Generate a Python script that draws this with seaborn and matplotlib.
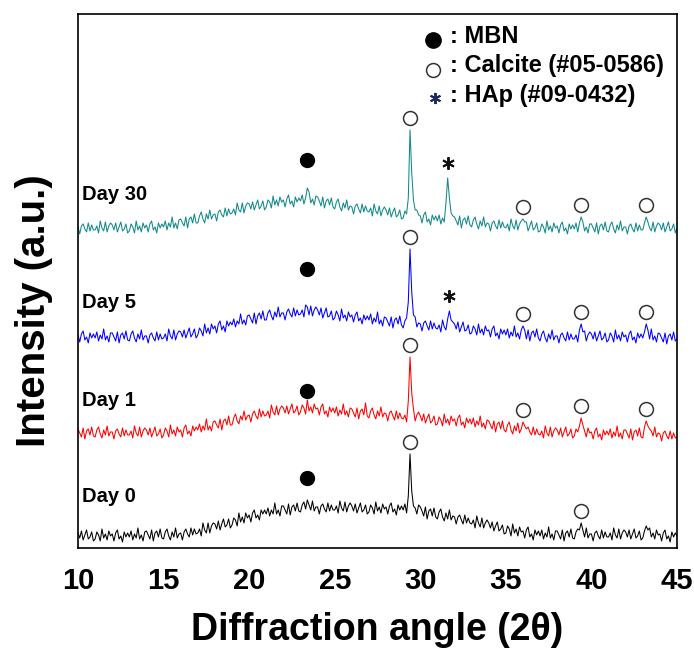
import numpy as np
import pandas as pd
import matplotlib
matplotlib.use('Agg')
import matplotlib.pyplot as plt
import seaborn as sns

# XRD scans, 2theta 10-45 deg in 0.1 deg steps (one row = 1 deg), intensity in a.u.
day0 = [3, -2, 5, -4, 1, 6, -3, -1, 4, -5,
        -3, 4, 1, -5, 7, -2, 2, -4, 5, 0,
        2, -5, 3, 6, -3, 0, -6, 4, -1, 3,
        -1, 5, -4, 2, -2, 8, -3, 1, -5, 4,
        5, 1, -3, 6, -5, 3, 5, -1, 7, -2,
        -3, 4, 7, 0, -4, 4, -1, 8, -2, 2,
        3, -4, 4, 7, 2, -1, 8, 1, 7, 2,
        3, 7, 0, 13, 6, 3, 13, 3, 10, 13,
        12, 7, 15, 6, 12, 17, 9, 11, 17, 8,
        11, 18, 16, 10, 23, 14, 19, 13, 23, 18,
        21, 14, 23, 26, 18, 21, 16, 26, 22, 26,
        22, 28, 20, 26, 22, 33, 22, 26, 20, 30,
        30, 26, 22, 32, 21, 29, 31, 25, 33, 25,
        24, 31, 34, 27, 36, 31, 26, 35, 25, 29,
        29, 22, 30, 32, 27, 24, 33, 25, 31, 26,
        26, 30, 23, 35, 28, 25, 34, 24, 30, 33,
        30, 25, 32, 23, 28, 33, 24, 26, 31, 22,
        24, 31, 28, 22, 34, 25, 29, 23, 32, 27,
        29, 22, 30, 33, 24, 27, 21, 31, 26, 30,
        26, 32, 23, 40, 82, 45, 30, 28, 22, 31,
        29, 25, 20, 29, 17, 25, 27, 20, 28, 19,
        17, 24, 27, 19, 15, 23, 17, 26, 16, 20,
        19, 12, 19, 21, 16, 12, 21, 13, 18, 13,
        12, 16, 8, 20, 13, 9, 18, 8, 13, 16,
        13, 8, 14, 5, 10, 14, 5, 7, 11, 2,
        3, 10, 7, 0, 12, 3, 7, 0, 9, 4,
        5, -2, 6, 9, -1, 2, -4, 6, 1, 5,
        0, 6, -3, 3, -1, 9, -2, 2, -4, 5,
        5, 1, -3, 6, -5, 3, 5, -1, 7, -2,
        -3, 4, 7, 6, 13, 6, -1, 8, -2, 2,
        2, -5, 3, 5, 0, -3, 6, -2, 4, -1,
        -1, 3, -4, 8, 1, -2, 7, -3, 3, 6,
        4, -1, 6, -3, 2, 7, -2, 0, 5, -4,
        -2, 5, 10, 6, 8, -1, 3, -3, 6, 1,
        2, -5, 3, 6, -3, 0, -6, 4, -1, 3,
        0]

day1 = [4, 0, -4, 5, -6, 2, 4, -2, 6, -3,
        -4, 3, 6, -1, -5, 3, -2, 7, -3, 1,
        1, -6, 2, 4, -1, -4, 5, -3, 3, -2,
        -2, 2, -5, 7, 0, -3, 6, -4, 2, 5,
        3, -2, 5, -4, 1, 6, -3, -1, 4, -5,
        -2, 5, 2, -4, 8, -1, 3, -3, 6, 1,
        3, -4, 5, 8, -1, 2, -3, 7, 2, 6,
        3, 9, 1, 7, 3, 14, 3, 7, 2, 11,
        12, 8, 5, 14, 3, 12, 14, 8, 17, 8,
        8, 15, 19, 12, 9, 17, 13, 22, 13, 17,
        18, 11, 19, 22, 17, 14, 24, 16, 22, 17,
        18, 22, 15, 28, 21, 18, 27, 18, 24, 27,
        25, 20, 27, 19, 24, 29, 20, 22, 27, 18,
        21, 28, 25, 19, 33, 22, 26, 20, 29, 24,
        25, 18, 26, 29, 19, 22, 16, 26, 21, 25,
        20, 26, 17, 23, 19, 29, 18, 22, 16, 25,
        24, 20, 16, 25, 14, 22, 24, 18, 30, 17,
        15, 22, 25, 18, 14, 22, 17, 26, 16, 20,
        19, 12, 20, 22, 17, 13, 22, 14, 20, 15,
        14, 18, 11, 32, 76, 40, 24, 12, 18, 21,
        17, 12, 19, 10, 15, 19, 10, 12, 17, 8,
        9, 16, 13, 7, 19, 10, 14, 8, 17, 12,
        14, 7, 15, 18, 8, 11, 5, 15, 10, 14,
        9, 15, 6, 12, 8, 17, 6, 10, 4, 13,
        12, 8, 4, 12, 1, 9, 11, 4, 12, 3,
        1, 8, 11, 3, -1, 7, 2, 10, 0, 4,
        11, 7, 4, 6, 1, -2, 6, -2, 4, -1,
        -2, 2, -5, 7, 0, -3, 6, -4, 2, 5,
        3, -2, 5, -4, 1, 6, -3, -1, 4, -5,
        -3, 4, 1, 7, 15, 8, 2, -4, 5, 0,
        1, -6, 2, 5, -4, -1, -7, 3, -2, 2,
        -2, 4, -5, 1, -3, 7, -4, 0, -6, 3,
        3, -1, -5, 4, -7, 1, 3, -3, 5, -4,
        -5, 6, 12, 7, 4, 2, -3, 6, -4, 0,
        -1, -8, 0, 2, -3, -6, 2, -6, 0, -5,
        -4]

day5 = [2, -5, 3, 6, -3, 0, -6, 4, -1, 3,
        -1, 5, -4, 2, -2, 8, -3, 1, -5, 4,
        4, 0, -4, 5, -6, 2, 4, -2, 6, -3,
        -4, 3, 6, -1, -5, 3, -2, 7, -3, 1,
        1, -6, 2, 4, -1, -4, 5, -3, 3, -2,
        -1, 3, -4, 8, 1, -2, 7, -3, 3, 6,
        5, 0, 7, -1, 4, 9, 0, 3, 8, -1,
        2, 9, 6, 1, 13, 4, 9, 3, 13, 8,
        11, 4, 13, 16, 7, 11, 5, 16, 11, 15,
        12, 18, 10, 16, 13, 23, 13, 17, 12, 21,
        22, 18, 14, 24, 13, 21, 24, 18, 26, 17,
        17, 24, 27, 21, 17, 25, 20, 30, 20, 24,
        24, 17, 25, 28, 23, 20, 29, 21, 27, 22,
        23, 27, 20, 32, 30, 22, 31, 21, 27, 30,
        27, 22, 29, 19, 24, 29, 20, 21, 26, 17,
        19, 26, 22, 16, 28, 19, 22, 16, 25, 20,
        22, 15, 22, 25, 16, 19, 13, 22, 17, 21,
        17, 23, 13, 19, 15, 25, 13, 17, 11, 20,
        19, 15, 11, 20, 9, 17, 19, 13, 21, 12,
        9, 16, 19, 35, 88, 45, 22, 20, 10, 14,
        13, 6, 14, 16, 11, 7, 16, 8, 14, 9,
        8, 12, 5, 17, 10, 7, 18, 26, 17, 15,
        13, 8, 15, 5, 10, 15, 6, 7, 12, 3,
        4, 11, 8, 2, 13, 4, 8, 2, 11, 6,
        7, 0, 8, 11, 1, 4, -2, 8, 3, 7,
        2, 8, -1, 5, 1, 11, 0, 4, -2, 7,
        11, 7, -2, 7, -4, 4, 6, 0, 8, -1,
        -4, 3, 6, -1, -5, 3, -2, 7, -3, 1,
        1, -6, 2, 4, -1, -4, 5, -3, 3, -2,
        -2, 2, -5, 7, 13, 5, 6, -4, 2, 5,
        3, -2, 5, -4, 1, 6, -3, -1, 4, -5,
        -3, 4, 1, -5, 7, -2, 2, -4, 5, 0,
        2, -5, 3, 6, -3, 0, -6, 4, -1, 3,
        -1, 5, 13, 7, -2, 8, -3, 1, -5, 4,
        3, -1, -5, 4, -7, 1, 3, -3, 5, -4,
        -2]

day30 = [1, -6, 2, 4, -1, -4, 5, -3, 3, -2,
         -2, 2, -5, 7, 0, -3, 6, -4, 2, 5,
         3, -2, 5, -4, 1, 6, -3, -1, 4, -5,
         -3, 4, 1, -5, 7, -2, 2, -4, 5, 0,
         3, -4, 4, 7, -2, 1, -5, 5, 0, 4,
         1, 7, -2, 5, 1, 11, 0, 5, -1, 8,
         9, 5, 2, 11, 0, 9, 11, 5, 14, 5,
         5, 12, 16, 9, 5, 14, 9, 18, 9, 13,
         14, 7, 16, 18, 13, 11, 20, 12, 19, 14,
         15, 19, 13, 25, 18, 16, 25, 15, 22, 25,
         24, 19, 26, 18, 23, 28, 19, 22, 27, 18,
         21, 28, 26, 20, 32, 23, 28, 22, 31, 26,
         28, 21, 29, 33, 24, 27, 21, 31, 26, 30,
         27, 33, 24, 30, 40, 36, 25, 29, 23, 32,
         31, 27, 22, 31, 20, 27, 29, 23, 30, 21,
         19, 26, 29, 21, 17, 25, 20, 28, 18, 22,
         21, 14, 22, 24, 19, 15, 24, 16, 22, 17,
         16, 20, 12, 24, 17, 14, 22, 12, 18, 21,
         18, 13, 20, 11, 16, 20, 11, 13, 18, 9,
         10, 17, 14, 30, 98, 55, 28, 18, 18, 13,
         12, 5, 13, 16, 6, 9, 3, 13, 8, 12,
         7, 13, 4, 10, 6, 25, 50, 30, 15, 12,
         11, 7, 3, 12, 0, 8, 10, 4, 12, 3,
         1, 8, 11, 4, -1, 7, 2, 11, 1, 5,
         4, -3, 5, 7, 2, -1, 8, 0, 6, 1,
         0, 4, -3, 9, 2, -1, 8, -2, 4, 7,
         9, 6, 6, -3, 2, 7, -2, 0, 5, -4,
         -3, 4, 1, -5, 7, -2, 2, -4, 5, 0,
         2, -5, 3, 6, -3, 0, -6, 4, -1, 3,
         -1, 5, -4, 5, 11, 6, -3, 1, -5, 4,
         4, 0, -4, 5, -6, 2, 4, -2, 6, -3,
         -4, 3, 6, -1, -5, 3, -2, 7, -3, 1,
         1, -6, 2, 4, -1, -4, 5, -3, 3, -2,
         -2, 5, 11, 6, 0, -3, 6, -4, 2, 5,
         3, -2, 5, -4, 1, 6, -3, -1, 4, -5,
         0]

days = ['Day 0', 'Day 1', 'Day 5', 'Day 30']
colors = ['#000000', '#ff0000', '#0000ff', '#13898a']
offsets = [12, 115, 211, 320]

# peak assignments per sample
mbn_peak = 23.4
calcite_peaks = {'Day 0': [29.4, 39.4],
                 'Day 1': [29.4, 36.0, 39.4, 43.2],
                 'Day 5': [29.4, 36.0, 39.4, 43.2],
                 'Day 30': [29.4, 36.0, 39.4, 43.2]}
hap_peaks = {'Day 5': [31.7], 'Day 30': [31.6]}
mbn_gap = {'Day 0': 22, 'Day 1': 9, 'Day 5': 36, 'Day 30': 28}

sns.set_style('white')
plt.rcParams['font.family'] = ['Liberation Sans', 'DejaVu Sans']
plt.rcParams['font.weight'] = 'bold'
plt.rcParams['text.color'] = 'black'
plt.rcParams['axes.labelcolor'] = 'black'
plt.rcParams['xtick.color'] = 'black'

traces = {'Day 0': day0, 'Day 1': day1, 'Day 5': day5, 'Day 30': day30}
rows = []
for d, off in zip(days, offsets):
    x = np.linspace(10, 45, len(traces[d]))
    for t, v in zip(x, traces[d]):
        rows.append({'two_theta': t, 'intensity': v + off, 'sample': d})
df = pd.DataFrame(rows)

fig = plt.figure(figsize=(6.94, 6.55), dpi=100)
ax = fig.add_axes([0.1124, 0.1634, 0.8631, 0.8153])

sns.lineplot(data=df, x='two_theta', y='intensity', hue='sample',
             palette=dict(zip(days, colors)), linewidth=0.75,
             legend=False, ax=ax, estimator=None)


def top_near(d, x0, off):
    sub = df[(df['sample'] == d) & ((df['two_theta'] - x0).abs() < 0.35)]
    return sub['intensity'].max()


for d, off in zip(days, offsets):
    ax.plot(mbn_peak, top_near(d, mbn_peak, off) + mbn_gap[d], 'o', ms=10,
            color='black')
    for p in calcite_peaks[d]:
        ax.plot(p, top_near(d, p, off) + 12, 'o', ms=10, mfc='white',
                mec='#333333', mew=1.1)
    for p in hap_peaks.get(d, []):
        ax.plot(p, top_near(d, p, off) + 15, marker=(6, 2, 0), ms=9,
                mew=1.4, color='#111111')

label_y = {'Day 0': 0.0955, 'Day 1': 0.277, 'Day 5': 0.459, 'Day 30': 0.661}
for d in days:
    ax.text(0.007, label_y[d], d, transform=ax.transAxes, fontsize=14.5,
            fontweight='bold', va='center', ha='left', color='black')

# phase key
ax.plot(0.593, 0.951, 'o', ms=11, color='black', transform=ax.transAxes,
        clip_on=False)
ax.plot(0.593, 0.895, 'o', ms=10, mfc='white', mec='#333333', mew=1.1,
        transform=ax.transAxes, clip_on=False)
ax.plot(0.596, 0.843, marker=(6, 2, 0), ms=8, mew=1.4, color='#1a2a5a',
        transform=ax.transAxes, clip_on=False)
ax.text(0.621, 0.957, ': MBN', transform=ax.transAxes, fontsize=17,
        fontweight='bold', va='center', color='black')
ax.text(0.621, 0.903, ': Calcite (#05-0586)', transform=ax.transAxes,
        fontsize=17, fontweight='bold', va='center', color='black')
ax.text(0.621, 0.848, ': HAp (#09-0432)', transform=ax.transAxes,
        fontsize=17, fontweight='bold', va='center', color='black')

ax.set_xlim(10, 45)
ax.set_ylim(0, 534)
ax.set_xticks([10, 15, 20, 25, 30, 35, 40, 45])
ax.set_xticks([12.5, 17.5, 22.5, 27.5, 32.5, 37.5, 42.5], minor=True)
ax.set_yticks([])
ax.tick_params(axis='x', which='major', direction='in', length=7, width=1.2,
               labelsize=21, pad=14, colors='black')
ax.tick_params(axis='x', which='minor', direction='in', length=4, width=1.2,
               colors='black')
for lab in ax.get_xticklabels():
    lab.set_fontweight('bold')
for s in ax.spines.values():
    s.set_linewidth(1.2)
    s.set_color('black')

ax.set_xlabel('Diffraction angle (2θ)', fontsize=27, fontweight='bold',
              labelpad=12, color='black')
ax.set_ylabel('Intensity (a.u.)', fontsize=29, fontweight='bold', va='center',
              color='black')
ax.yaxis.set_label_coords(-0.0735, 0.444)

fig.savefig('out.png', dpi=100)
